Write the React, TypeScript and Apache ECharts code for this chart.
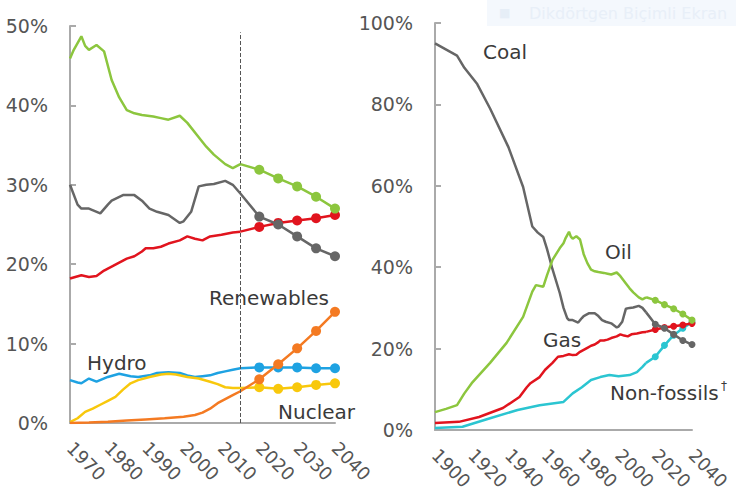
import React, { useEffect, useRef } from "react";
import * as echarts from "echarts";

// ---- Left chart (1970-2040), share of primary energy, %
const oilHist = [[1970,45.9],[1971,47],[1973,48.7],[1974,47.5],[1975,47],[1977,47.6],[1979,46.8],[1981,43.2],[1983,41],[1985,39.4],[1987,39],[1989,38.8],[1992,38.6],[1994,38.4],[1996,38.2],[1999,38.7],[2001,37.8],[2004,36],[2006,34.8],[2008,33.8],[2011,32.6],[2013,32.1],[2015,32.6]];
const oilProj = [[2015,32.6],[2020,31.9],[2025,30.8],[2030,29.8],[2035,28.5],[2040,27]];
const coalHist = [[1970,30],[1972,27.5],[1973,27],[1975,27],[1978,26.4],[1980,27.5],[1981,28],[1984,28.7],[1987,28.7],[1989,28],[1991,27],[1993,26.6],[1996,26.2],[1999,25.2],[2000,25.4],[2002,26.6],[2004,29.8],[2006,30],[2008,30.1],[2011,30.5],[2013,30],[2015,28.9]];
const coalProj = [[2015,28.9],[2020,26],[2025,25],[2030,23.5],[2035,22],[2040,21]];
const gasHist = [[1970,18.2],[1973,18.6],[1975,18.4],[1977,18.5],[1979,19.2],[1981,19.7],[1983,20.2],[1985,20.7],[1987,21],[1989,21.6],[1990,22],[1992,22],[1994,22.2],[1996,22.6],[1999,23],[2001,23.5],[2003,23.2],[2005,23],[2007,23.5],[2010,23.7],[2013,24],[2015,24.1]];
const gasProj = [[2015,24.1],[2020,24.7],[2025,25.2],[2030,25.5],[2035,25.8],[2040,26.2]];
const hydroHist = [[1970,5.4],[1972,5.1],[1973,5],[1975,5.6],[1977,5.2],[1980,5.8],[1983,6.2],[1986,5.9],[1988,5.8],[1991,6],[1993,6.3],[1996,6.4],[1999,6.3],[2001,6],[2003,5.8],[2005,5.9],[2007,6],[2009,6.3],[2011,6.5],[2013,6.7],[2015,6.9]];
const hydroProj = [[2015,6.9],[2020,7.0],[2025,7.0],[2030,7.0],[2035,6.9],[2040,6.9]];
const nuclearHist = [[1970,0.1],[1972,0.6],[1974,1.4],[1976,1.8],[1978,2.3],[1980,2.8],[1982,3.3],[1984,4.2],[1986,5],[1988,5.4],[1991,5.8],[1994,6.1],[1996,6.2],[1998,6.1],[2001,5.8],[2004,5.6],[2007,5.2],[2009,4.9],[2011,4.5],[2013,4.4],[2015,4.4]];
const nuclearProj = [[2015,4.4],[2020,4.5],[2025,4.3],[2030,4.5],[2035,4.8],[2040,5.0]];
const renewHist = [[1970,0],[1975,0.05],[1980,0.15],[1985,0.3],[1990,0.45],[1995,0.6],[2000,0.8],[2003,1.0],[2005,1.3],[2007,1.8],[2009,2.5],[2011,3.0],[2013,3.5],[2015,4.0]];
const renewProj = [[2015,4.0],[2020,5.5],[2025,7.4],[2030,9.4],[2035,11.6],[2040,14.0]];

// ---- Right chart (1900-2040): early history before 1970
const coalEarly = [[1900,95],[1912,92],[1916,89],[1923,85],[1930,79],[1940,69.5],[1948,59.7],[1953,50],[1956,48.5],[1959,47.4],[1961,44.5],[1964,39.5],[1968,33.6]];
const oilEarly = [[1900,4.4],[1906,5.2],[1912,6.1],[1916,9],[1920,11.5],[1930,16.5],[1939,21.4],[1948,27.8],[1953,34],[1955,35.6],[1959,35.2],[1961,38],[1964,41.8],[1968,44.7]];
const gasEarly = [[1900,1.7],[1913,2],[1924,3.2],[1937,5.4],[1946,8.1],[1950,10.5],[1952,11.5],[1957,13],[1960,14.8],[1964,16.5],[1967,18]];
const nonFossilHist = [[1900,0.5],[1915,0.8],[1930,2.9],[1945,4.9],[1957,6.1],[1970,6.9],[1975,9],[1980,10.5],[1985,12.3],[1990,13],[1995,13.5],[2000,13.2],[2006,13.5],[2010,14.2],[2013,15.5],[2015,16.5]];
const nonFossilProj = [[2015,16.5],[2020,18],[2025,20.8],[2030,23.3],[2035,25],[2040,26.5]];

const leftYearTicks = [1970, 2040, 10];
const rightYearTicks = [1900, 2040, 20];
const projectionStart = 2015;

const C = {
  oil: "#8cc63e",
  coal: "#666666",
  gas: "#e1141e",
  hydro: "#1ea2e2",
  nuclear: "#f8c80c",
  renew: "#f47a22",
  nonFossil: "#2bc5d1",
};

const FONT = "DejaVu Sans";

function hist(data: number[][], color: string, xi: number, width: number, z: number) {
  return {
    type: "line",
    xAxisIndex: xi,
    yAxisIndex: xi,
    data,
    showSymbol: false,
    symbol: "none",
    lineStyle: { color, width },
    itemStyle: { color },
    z,
    silent: true,
    emphasis: { disabled: true },
  };
}

function proj(data: number[][], color: string, xi: number, width: number, size: number, z: number) {
  return {
    type: "line",
    xAxisIndex: xi,
    yAxisIndex: xi,
    data,
    symbol: "circle",
    showSymbol: true,
    symbolSize: (v: number[]) => (v[0] > projectionStart ? size : 0),
    lineStyle: { color, width },
    itemStyle: { color },
    z,
    silent: true,
    emphasis: { disabled: true },
  };
}

export default function App() {
  const ref = useRef<HTMLDivElement>(null);
  useEffect(() => {
    if (!ref.current) return;
    const chart = echarts.init(ref.current, undefined, { renderer: "svg" });
    const axisLineStyle = { color: "#aaaaaa", width: 2 };
    const xAxisCommon = (min: number, max: number, interval: number, gi: number) => ({
      type: "value",
      gridIndex: gi,
      min,
      max,
      interval,
      axisLine: { show: true, lineStyle: axisLineStyle },
      axisTick: { show: false },
      splitLine: { show: false },
      axisLabel: {
        rotate: -45,
        margin: 22,
        color: "#555555",
        fontSize: 18,
        fontFamily: FONT,
        formatter: (v: number) => String(v),
      },
    });
    const yAxisCommon = (max: number, interval: number, gi: number) => ({
      type: "value",
      gridIndex: gi,
      min: 0,
      max,
      interval,
      axisLine: { show: true, lineStyle: axisLineStyle },
      axisTick: { show: true, inside: true, length: 6, lineStyle: axisLineStyle },
      splitLine: { show: false },
      axisLabel: {
        margin: 22,
        color: "#555555",
        fontSize: 19,
        fontFamily: FONT,
        formatter: "{value}%",
      },
    });
    const dashed = {
      type: "dashed",
      color: "#555555",
      width: 1,
    };
    const labelStyle = { fontSize: 20, fontFamily: FONT, fill: "#3a3a3a" };
    const option: any = {
      animation: false,
      grid: [
        { left: 70, top: 26, width: 265, height: 397 },
        { left: 435, top: 23, width: 257, height: 407 },
      ],
      xAxis: [
        xAxisCommon(leftYearTicks[0], leftYearTicks[1], leftYearTicks[2], 0),
        xAxisCommon(rightYearTicks[0], rightYearTicks[1], rightYearTicks[2], 1),
      ],
      yAxis: [yAxisCommon(50, 10, 0), yAxisCommon(100, 20, 1)],
      series: [
        // left chart
        {
          ...hist(hydroHist, C.hydro, 0, 2.5, 2),
          markLine: {
            silent: true,
            symbol: ["none", "none"],
            label: { show: false },
            lineStyle: dashed,
            data: [[{ coord: [projectionStart, 0] }, { coord: [projectionStart, 49.2] }]],
          },
        },
        proj(hydroProj, C.hydro, 0, 2.5, 10, 2),
        hist(nuclearHist, C.nuclear, 0, 2.5, 3),
        proj(nuclearProj, C.nuclear, 0, 2.5, 10, 3),
        hist(renewHist, C.renew, 0, 2.5, 4),
        proj(renewProj, C.renew, 0, 2.5, 10, 4),
        hist(gasHist, C.gas, 0, 2.5, 5),
        proj(gasProj, C.gas, 0, 2.5, 10, 5),
        hist(coalHist, C.coal, 0, 2.5, 6),
        proj(coalProj, C.coal, 0, 2.5, 10, 6),
        hist(oilHist, C.oil, 0, 2.5, 7),
        proj(oilProj, C.oil, 0, 2.5, 10, 7),
        // right chart
        {
          ...hist(nonFossilHist, C.nonFossil, 1, 2.5, 2),
          markLine: {
            silent: true,
            symbol: ["none", "none"],
            label: { show: false },
            lineStyle: dashed,
            data: [[{ coord: [projectionStart, 0] }, { coord: [projectionStart, 101.5] }]],
          },
        },
        proj(nonFossilProj, C.nonFossil, 1, 2.5, 7, 2),
        hist([...gasEarly, ...gasHist], C.gas, 1, 2.5, 3),
        proj(gasProj, C.gas, 1, 2.5, 7, 3),
        hist([...coalEarly, ...coalHist], C.coal, 1, 2.5, 4),
        proj(coalProj, C.coal, 1, 2.5, 7, 4),
        hist([...oilEarly, ...oilHist], C.oil, 1, 2.5, 5),
        proj(oilProj, C.oil, 1, 2.5, 7, 5),
      ],
      graphic: [
        {
          type: "rect",
          x: 487,
          y: 0,
          shape: { width: 249, height: 26 },
          style: { fill: "#f4f8fd" },
          silent: true,
          z: -10,
        },
        {
          type: "text",
          x: 499,
          y: 13,
          style: { text: "■", fontSize: 12, fill: "#e6eef7", fontFamily: FONT, verticalAlign: "middle" },
          silent: true,
        },
        {
          type: "text",
          x: 529,
          y: 13,
          style: { text: "Dikdörtgen Biçimli Ekran", fontSize: 16, fill: "#e8eff8", fontFamily: FONT, verticalAlign: "middle" },
          silent: true,
        },
        { type: "text", x: 87, y: 363, style: { ...labelStyle, text: "Hydro", verticalAlign: "middle" }, silent: true },
        { type: "text", x: 209, y: 298, style: { ...labelStyle, text: "Renewables", verticalAlign: "middle" }, silent: true },
        { type: "text", x: 278, y: 412, style: { ...labelStyle, text: "Nuclear", verticalAlign: "middle" }, silent: true },
        { type: "text", x: 483, y: 52, style: { ...labelStyle, text: "Coal", verticalAlign: "middle" }, silent: true },
        { type: "text", x: 605, y: 252, style: { ...labelStyle, text: "Oil", verticalAlign: "middle" }, silent: true },
        { type: "text", x: 543, y: 340, style: { ...labelStyle, text: "Gas", verticalAlign: "middle" }, silent: true },
        { type: "text", x: 610, y: 393, style: { ...labelStyle, text: "Non-fossils", verticalAlign: "middle" }, silent: true },
        { type: "text", x: 721, y: 386, style: { ...labelStyle, fontSize: 12, text: "†", verticalAlign: "middle" }, silent: true },
      ],
    };
    chart.setOption(option);
    return () => chart.dispose();
  }, []);
  return <div ref={ref} style={{ width: 736, height: 494, position: "absolute", left: 0, top: 0 }} />;
}
